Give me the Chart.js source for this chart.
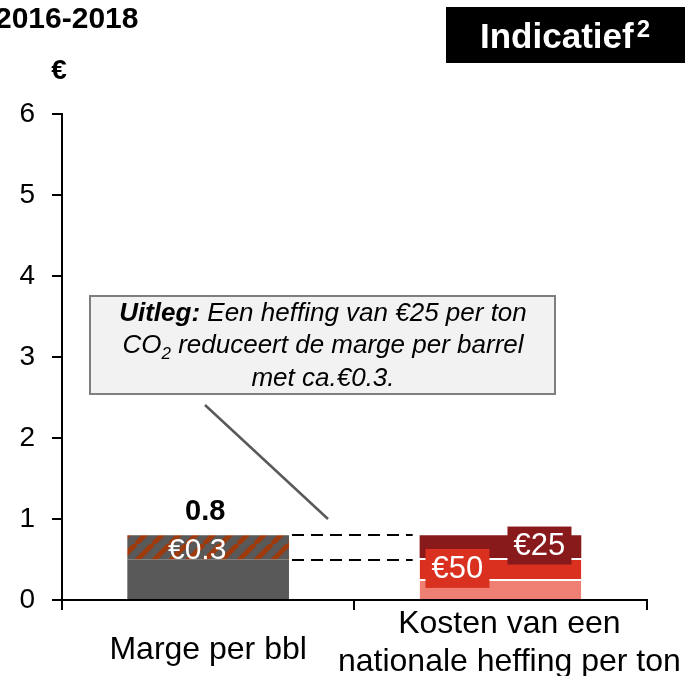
<!DOCTYPE html>
<html>
<head>
<meta charset="utf-8">
<script src="https://cdn.jsdelivr.net/npm/chart.js@4"></script>
<style>
  html, body { margin: 0; padding: 0; background: #fff; }
  #wrap { position: relative; width: 685px; height: 676px; }
</style>
</head>
<body>
<div id="wrap"><canvas id="chart"></canvas></div>
<script>
// tweede label staat iets rechts van het midden (voorloopspaties)
const categories = ['Marge per bbl', ['  Kosten van een', '  nationale heffing per ton']];
const yTicks = [0, 1, 2, 3, 4, 5, 6];

// marge per barrel: basis + deel dat door de heffing wegvalt
const margeBasis = [0.5, null];
const margeHeffing = [0.3, null];
// kosten van de heffing, van onder naar boven
const kostenLaag = [null, 0.26];
const kostenMidden = [null, 0.26];
const kostenHoog = [null, 0.28];
const heffingLabels = ['€50', '€25'];

const FONT = "'Liberation Sans', Arial, sans-serif";

function hatch() {
  const size = 17;
  const c = document.createElement('canvas');
  c.width = size; c.height = size;
  const g = c.getContext('2d');
  g.fillStyle = '#595959';
  g.fillRect(0, 0, size, size);
  g.strokeStyle = '#9E3A0B';
  g.lineWidth = 5;
  for (const off of [-size, 0, size]) {
    g.beginPath();
    g.moveTo(off, size);
    g.lineTo(off + size, 0);
    g.stroke();
  }
  return g.createPattern(c, 'repeat');
}

// tekst in stukjes met eigen font achter elkaar, gecentreerd rond cx
function drawRuns(ctx, runs, cx, y) {
  let total = 0;
  runs.forEach(r => { ctx.font = r.font; total += ctx.measureText(r.text).width; });
  let x = cx - total / 2;
  ctx.textAlign = 'left';
  runs.forEach(r => {
    ctx.font = r.font;
    ctx.fillText(r.text, x, y + (r.dy || 0));
    x += ctx.measureText(r.text).width;
  });
}

function labelBox(ctx, text, cx, cy, w, h, fill) {
  ctx.fillStyle = fill;
  ctx.fillRect(cx - w / 2, cy - h / 2, w, h);
  ctx.fillStyle = '#fff';
  ctx.font = '31px ' + FONT;
  ctx.textAlign = 'center';
  ctx.textBaseline = 'middle';
  ctx.fillText(text, cx, cy + 1);
}

const overlay = {
  id: 'overlay',
  afterDatasetsDraw(chart) {
    const { ctx } = chart;
    const hat = chart.getDatasetMeta(1).data[0];
    const mid = chart.getDatasetMeta(3).data[1];
    const top = chart.getDatasetMeta(4).data[1];
    const low = chart.getDatasetMeta(2).data[1];
    ctx.save();

    // stippellijnen tussen marge en kosten
    ctx.strokeStyle = '#000';
    ctx.lineWidth = 2;
    ctx.setLineDash([12, 7]);
    const x0 = hat.x + hat.width / 2 + 3;
    const x1 = low.x - low.width / 2 - 7;
    [hat.y, hat.base].forEach(y => {
      ctx.beginPath();
      ctx.moveTo(x0, Math.round(y));
      ctx.lineTo(x1, Math.round(y));
      ctx.stroke();
    });
    ctx.setLineDash([]);

    // totaal boven de marge
    const totaal = margeBasis[0] + margeHeffing[0];
    ctx.fillStyle = '#000';
    ctx.font = 'bold 29px ' + FONT;
    ctx.textAlign = 'center';
    ctx.textBaseline = 'middle';
    ctx.fillText(totaal.toFixed(1), hat.x - 3, hat.y - 23);

    // waarde op het gearceerde deel
    ctx.fillStyle = '#fff';
    ctx.font = '30px ' + FONT;
    ctx.fillText('€' + margeHeffing[0].toFixed(1), hat.x - 11, (hat.y + hat.base) / 2 + 3);

    labelBox(ctx, heffingLabels[0], mid.x - 43, (mid.y + mid.base) / 2, 64, 39, '#D9301F');
    labelBox(ctx, heffingLabels[1], top.x + 39, (top.y + top.base) / 2 - 1, 64, 38, '#891A1C');

    // uitleg-kader met verbindingslijn
    ctx.strokeStyle = '#595959';
    ctx.lineWidth = 2.5;
    ctx.beginPath();
    ctx.moveTo(205, 405);
    ctx.lineTo(328, 519);
    ctx.stroke();

    ctx.fillStyle = '#F2F2F2';
    ctx.fillRect(90, 296, 465, 98);
    ctx.strokeStyle = '#7F7F7F';
    ctx.lineWidth = 2;
    ctx.strokeRect(90, 296, 465, 98);

    ctx.fillStyle = '#000';
    ctx.textBaseline = 'alphabetic';
    const it = 'italic 26px ' + FONT;
    drawRuns(ctx, [
      { text: 'Uitleg:', font: 'italic bold 26px ' + FONT },
      { text: ' Een heffing van €25 per ton', font: it }
    ], 323, 321);
    drawRuns(ctx, [
      { text: 'CO', font: it },
      { text: '2', font: 'italic 17px ' + FONT, dy: 6 },
      { text: ' reduceert de marge per barrel', font: it }
    ], 323, 353);
    drawRuns(ctx, [{ text: 'met ca.€0.3.', font: it }], 323, 386);

    ctx.restore();
  },
  afterDraw(chart) {
    const { ctx } = chart;
    ctx.save();
    ctx.fillStyle = '#000';
    ctx.textBaseline = 'middle';
    ctx.textAlign = 'left';
    ctx.font = 'bold 30px ' + FONT;
    ctx.fillText('2016-2018', -5, 20);
    ctx.textAlign = 'center';
    ctx.font = 'bold 28px ' + FONT;
    ctx.fillText('€', 59, 71);

    ctx.fillRect(446, 7, 239, 56);
    ctx.fillStyle = '#fff';
    ctx.textBaseline = 'alphabetic';
    ctx.textAlign = 'left';
    ctx.font = 'bold 35px ' + FONT;
    ctx.fillText('Indicatief', 480, 48);
    const w = ctx.measureText('Indicatief').width;
    ctx.font = 'bold 24px ' + FONT;
    ctx.fillText('2', 480 + w + 3, 37);
    ctx.restore();
  }
};

new Chart(document.getElementById('chart'), {
  type: 'bar',
  data: {
    labels: categories,
    datasets: [
      { data: margeBasis, backgroundColor: '#595959' },
      { data: margeHeffing, backgroundColor: hatch() },
      { data: kostenLaag, backgroundColor: '#EE7F72', borderColor: '#fff', borderWidth: { top: 2 }, borderSkipped: false },
      { data: kostenMidden, backgroundColor: '#D9301F', borderColor: '#fff', borderWidth: { top: 2 }, borderSkipped: false },
      { data: kostenHoog, backgroundColor: '#891A1C' }
    ].map(d => Object.assign({ stack: 'a', categoryPercentage: 1, barPercentage: 0.553 }, d))
  },
  options: {
    responsive: true,
    maintainAspectRatio: false,
    animation: false,
    layout: { padding: { top: 114, right: 37, left: 0, bottom: 0 } },
    plugins: { legend: { display: false }, tooltip: { enabled: false } },
    scales: {
      x: {
        stacked: true,
        afterFit(s) { s.height = 76; },
        border: { color: '#000', width: 2 },
        grid: { offset: true, drawOnChartArea: false, tickLength: 10, color: '#000', lineWidth: 2 },
        ticks: {
          color: '#000', padding: -5, maxRotation: 0, autoSkip: false,
          // enkelregelig label zakt iets, tussen de twee regels van het andere in
          font: (c) => ({ family: FONT, size: 32, lineHeight: c.index === 0 ? '90px' : '38px' })
        }
      },
      y: {
        stacked: true,
        min: 0,
        max: 6,
        afterFit(s) { s.width = 62; },
        afterBuildTicks(s) { s.ticks = yTicks.map(v => ({ value: v })); },
        border: { color: '#000', width: 2 },
        grid: { drawOnChartArea: false, tickLength: 10, color: '#000', lineWidth: 2 },
        ticks: { color: '#000', padding: 17, font: { family: FONT, size: 28 } }
      }
    }
  },
  plugins: [overlay]
});
</script>
</body>
</html>
